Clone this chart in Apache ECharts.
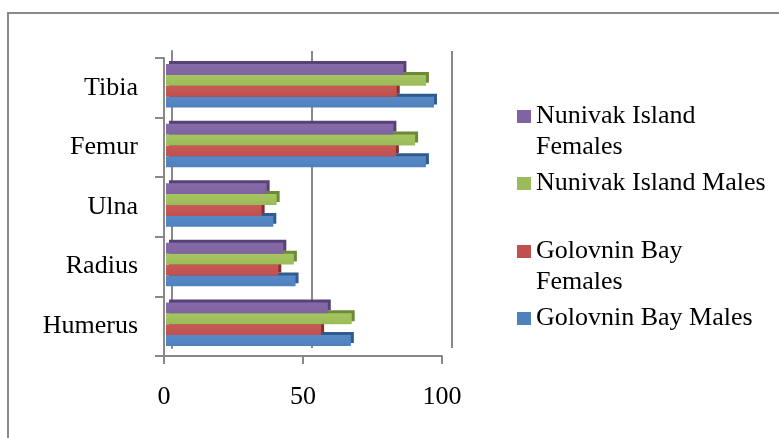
<!DOCTYPE html>
<html><head><meta charset="utf-8">
<script src="https://cdn.jsdelivr.net/npm/echarts@6/dist/echarts.min.js"></script>
<style>
html,body{margin:0;padding:0;background:#fff;overflow:hidden}
#frame{position:absolute;left:7px;top:12px;width:820px;height:480px;border-left:2px solid #8a8a8a;border-top:2px solid #8a8a8a;box-sizing:border-box}
#chart{position:absolute;left:0;top:0;width:779px;height:438px}
</style></head>
<body><div id="frame"></div><div id="chart"></div>
<script>
const categories = ['Humerus', 'Radius', 'Ulna', 'Femur', 'Tibia'];
const nunivakFemales  = [58.2, 42.2, 36.2, 81.8, 85.4];
const nunivakMales    = [66.8, 46.0, 39.8, 89.6, 93.5];
const golovninFemales = [55.8, 40.4, 34.4, 82.7, 83.0];
const golovninMales   = [66.5, 46.6, 38.6, 93.5, 96.4];
const xTicks = [0, 50, 100];
// series listed top-to-bottom within each category group
const seriesNames = ['Nunivak Island Females', 'Nunivak Island Males', 'Golovnin Bay Females', 'Golovnin Bay Males'];
const legendLines = [['Nunivak Island', 'Females'], ['Nunivak Island Males'], ['Golovnin Bay', 'Females'], ['Golovnin Bay Males']];

const FONT = "'Liberation Serif', 'Times New Roman', serif";
const GRID_COLOR = '#888888';
const colors = ['#8064A2', '#9BBB59', '#C0504D', '#4F81BD'];
const lightColors = ['#866aa8', '#a5c563', '#c85956', '#5689c6'];
const darkColors = ['#564277', '#6c8a35', '#872f2d', '#2f5b8f'];
const seriesData = [nunivakFemales, nunivakMales, golovninFemales, golovninMales];

const chart = echarts.init(document.getElementById('chart'), null, {renderer: 'canvas'});

const xMin = xTicks[0], xMax = xTicks[xTicks.length - 1], xInt = xTicks[1] - xTicks[0];

function makeLegend(i, top) {
  const lines = legendLines[i];
  const twoLine = lines.length > 1;
  return {
    left: 517, top: top, orient: 'vertical', padding: 0,
    itemWidth: 14, itemHeight: 13, icon: 'rect',
    data: [seriesNames[i]],
    selectedMode: false,
    formatter: function () {
      const body = lines.map(function (l) { return '{t|' + l + '}'; }).join('\n');
      return twoLine ? '{s| }\n' + body : body;
    },
    itemStyle: {shadowBlur: 0, shadowOffsetX: 0, shadowOffsetY: 0, shadowColor: 'rgba(0,0,0,0)', borderWidth: 0, color: colors[i]},
    textStyle: {
      fontFamily: FONT, fontSize: 26, color: '#000', lineHeight: 31,
      rich: {
        s: {fontFamily: FONT, fontSize: 26, lineHeight: 31, color: '#000'},
        t: {fontFamily: FONT, fontSize: 26, lineHeight: 31, color: '#000'}
      }
    }
  };
}

const option = {
  animation: false,
  backgroundColor: 'transparent',
  grid: [
    {left: 172, top: 51, width: 280, height: 297, containLabel: false},
    {left: 164, top: 58, width: 278, height: 298, containLabel: false},
    {left: 166, top: 56, width: 278, height: 298, containLabel: false}
  ],
  xAxis: [
    {gridIndex: 0, type: 'value', min: xMin, max: xMax, interval: xInt,
     axisLine: {show: false}, axisTick: {show: false}, axisLabel: {show: false},
     splitLine: {show: true, lineStyle: {color: GRID_COLOR, width: 2}}},
    {gridIndex: 1, type: 'value', min: xMin, max: xMax, interval: xInt,
     axisLine: {show: true, lineStyle: {color: GRID_COLOR, width: 2}},
     axisTick: {show: true, inside: false, length: 8, lineStyle: {color: GRID_COLOR, width: 2}},
     axisLabel: {show: true, margin: 28, fontFamily: FONT, fontSize: 26, color: '#000'},
     splitLine: {show: false}},
    {gridIndex: 2, type: 'value', min: xMin, max: xMax, interval: xInt,
     axisLine: {show: false}, axisTick: {show: false}, axisLabel: {show: false}, splitLine: {show: false}}
  ],
  yAxis: [
    {gridIndex: 0, type: 'category', data: categories,
     axisLine: {show: true, lineStyle: {color: GRID_COLOR, width: 2}},
     axisTick: {show: false}, axisLabel: {show: false}, splitLine: {show: false}},
    {gridIndex: 1, type: 'category', data: categories,
     axisLine: {show: true, lineStyle: {color: GRID_COLOR, width: 2}},
     axisTick: {show: true, inside: false, length: 9, lineStyle: {color: GRID_COLOR, width: 2}},
     axisLabel: {show: true, margin: 26, fontFamily: FONT, fontSize: 26, color: '#000'},
     splitLine: {show: false}},
    {gridIndex: 2, type: 'category', data: categories,
     axisLine: {show: false}, axisTick: {show: false}, axisLabel: {show: false}, splitLine: {show: false}}
  ],
  legend: [
    makeLegend(0, 70),
    makeLegend(1, 168),
    makeLegend(2, 205),
    makeLegend(3, 303)
  ],
  series: seriesData.map(function (d, i) {
    return {
      name: seriesNames[i], type: 'bar', xAxisIndex: 2, yAxisIndex: 2,
      data: d, barGap: '0%', barCategoryGap: '27%', z: 6 - i,
      itemStyle: {
        color: new echarts.graphic.LinearGradient(0, 0, 0, 1, [
          {offset: 0, color: lightColors[i]}, {offset: 1, color: colors[i]}
        ]),
        shadowColor: darkColors[i], shadowBlur: 0, shadowOffsetX: 3, shadowOffsetY: -3
      },
      emphasis: {disabled: true}
    };
  })
};
chart.setOption(option);
</script>
</body></html>
